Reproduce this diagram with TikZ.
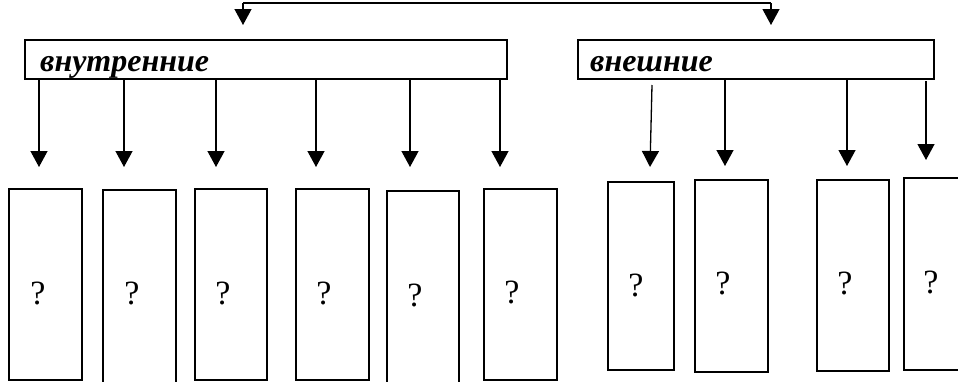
\documentclass[tikz,border=0pt]{standalone}
\usepackage{fontspec}
\setmainfont{Liberation Serif}
\usetikzlibrary{arrows.meta}
\begin{document}
\begin{tikzpicture}[x=1pt,y=-1pt,
  box/.style={draw, line width=1.6pt, anchor=north west, inner sep=0pt, outer sep=0pt},
  head/.style={font=\fontsize{32}{36}\selectfont\bfseries\itshape, anchor=base west, inner sep=0pt},
  qm/.style={font=\fontsize{34}{38}\selectfont, inner sep=0pt},
  arr/.style={line width=1.3pt, -{Triangle[length=16pt,width=17pt]}}]
\useasboundingbox (0,0) rectangle (958,381);
% top connector
\coordinate (tl) at (243,25);
\coordinate (tr) at (771,25);
\coordinate (cl) at (243,3);
\coordinate (cr) at (771,3);
\draw[line width=1.6pt] (cl) -- (cr);
\draw[arr] (cl) -- (tl);
\draw[arr] (cr) -- (tr);
% group boxes
\node[box, minimum width=482pt, minimum height=39pt] (in) at (25,40) {};
\node[head] (tin) at (40,71) {внутренние};
\node[box, minimum width=356pt, minimum height=39pt] (ex) at (578,40) {};
\node[head] (tex) at (590,71) {внешние};
% bottom boxes
\node[box, minimum width=73pt, minimum height=191pt] (b1) at (9,189) {};
\node[box, minimum width=73pt, minimum height=200pt] (b2) at (103,190) {};
\node[box, minimum width=72pt, minimum height=191pt] (b3) at (195,189) {};
\node[box, minimum width=73pt, minimum height=191pt] (b4) at (296,189) {};
\node[box, minimum width=72pt, minimum height=200pt] (b5) at (387,191) {};
\node[box, minimum width=73pt, minimum height=191pt] (b6) at (484,189) {};
\node[box, minimum width=66pt, minimum height=188pt] (b7) at (608,182) {};
\node[box, minimum width=73pt, minimum height=192pt] (b8) at (695,180) {};
\node[box, minimum width=72pt, minimum height=191pt] (b9) at (817,180) {};
\node[box, minimum width=80pt, minimum height=192pt] (b10) at (904,178) {};
% question marks
\node[qm] (q1) at (38,293) {?};
\node[qm] (q2) at (132,293) {?};
\node[qm] (q3) at (223,293) {?};
\node[qm] (q4) at (324,293) {?};
\node[qm] (q5) at (415,295) {?};
\node[qm] (q6) at (512,292) {?};
\node[qm] (q7) at (636,285) {?};
\node[qm] (q8) at (723,283) {?};
\node[qm] (q9) at (845,283) {?};
\node[qm] (q10) at (931,282) {?};
% arrows from group boxes
\coordinate (a1) at (39,167);
\coordinate (a2) at (124,167);
\coordinate (a3) at (216,167);
\coordinate (a4) at (316,167);
\coordinate (a5) at (410,167);
\coordinate (a6) at (500,167);
\coordinate (a7) at (650,167);
\coordinate (a8) at (725,166);
\coordinate (a9) at (847,166);
\coordinate (a10) at (926,160);
\draw[arr] (in.south -| a1) -- (a1);
\draw[arr] (in.south -| a2) -- (a2);
\draw[arr] (in.south -| a3) -- (a3);
\draw[arr] (in.south -| a4) -- (a4);
\draw[arr] (in.south -| a5) -- (a5);
\draw[arr] (in.south -| a6) -- (a6);
\coordinate (s7) at (652,85);
\draw[arr] (s7) -- (a7);
\draw[arr] (ex.south -| a8) -- (a8);
\draw[arr] (ex.south -| a9) -- (a9);
\coordinate (s10) at (926,81);
\draw[arr] (s10) -- (a10);
\end{tikzpicture}
\end{document}
